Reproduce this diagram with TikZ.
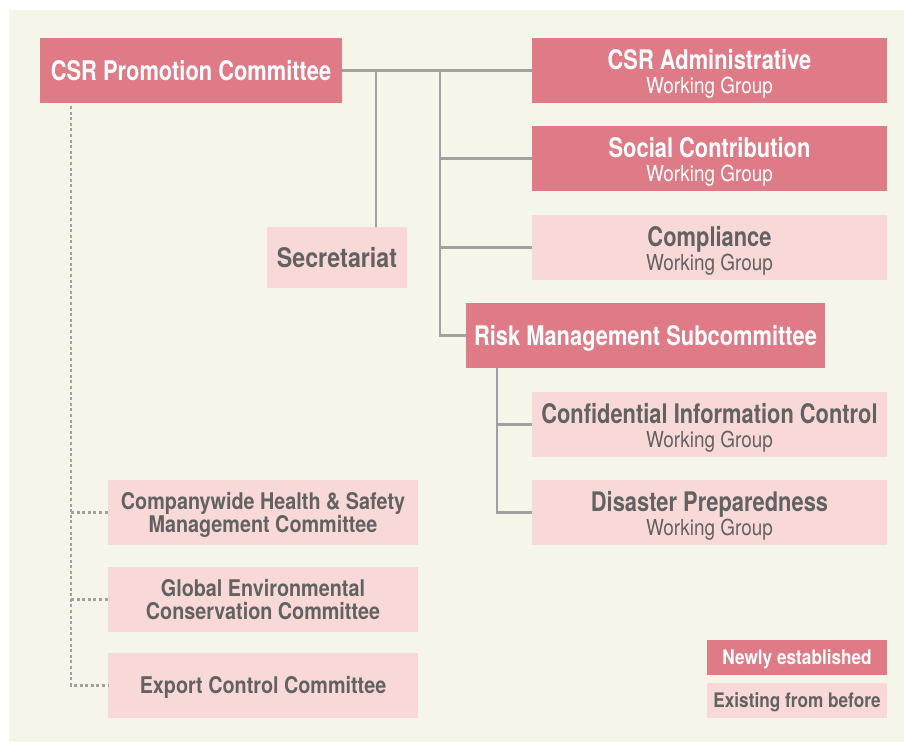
\documentclass[tikz,border=0pt]{standalone}
\usepackage{fontspec}
\newfontfamily\hdfont{TeX Gyre Heros}[FakeStretch=0.81]
\newfontfamily\sbfont{TeX Gyre Heros}[FakeStretch=0.86]
\definecolor{panelbg}{HTML}{F6F5EA}
\definecolor{newpink}{HTML}{DE7B87}
\definecolor{oldpink}{HTML}{F9D9D8}
\definecolor{txtgray}{HTML}{626262}
\definecolor{linegray}{HTML}{A0A0A0}
\newcommand{\wg}{\\{\sbfont\mdseries\fontsize{22}{24}\selectfont Working Group}}
\tikzset{
  box/.style={inner sep=0pt, outer sep=0pt, align=center,
    font=\hdfont\bfseries\fontsize{27}{24}\selectfont,
    text height=19.5pt, text depth=0pt},
  twoline/.style={text height=45pt, text depth=0pt},
  newbox/.style={box, fill=newpink, text=white},
  oldbox/.style={box, fill=oldpink, text=txtgray},
  wide/.style={minimum width=355pt, minimum height=65pt, twoline},
  side/.style={minimum width=310pt, minimum height=65pt,
    font=\sbfont\bfseries\fontsize{23}{23}\selectfont,
    text height=39pt, text depth=0pt},
  sideone/.style={side, text height=16pt, text depth=0pt},
  legend/.style={minimum width=180pt, minimum height=35pt,
    font=\sbfont\bfseries\fontsize{20}{22}\selectfont,
    text height=14pt, text depth=0pt},
  link/.style={draw=linegray, line width=2.5pt},
  dotlink/.style={draw=linegray, line width=2.5pt, dash pattern=on 3pt off 2.6pt}
}
\begin{document}
\begin{tikzpicture}[x=1pt, y=-1pt]
  \useasboundingbox (0,0) rectangle (904,742);
  \fill[panelbg] (9,10) rectangle (904,742);

  % committees and working groups
  \node[newbox, minimum width=302pt, minimum height=65pt] (prom) at (191,70.5) {CSR Promotion Committee};
  \node[newbox, wide] (admin) at (709.5,70.5) {CSR Administrative\wg};
  \node[newbox, wide] (social) at (709.5,158.5) {Social Contribution\wg};
  \node[oldbox, wide] (compl) at (709.5,247.5) {Compliance\wg};
  \node[newbox, minimum width=359pt, minimum height=65pt] (risk) at (645.5,335.5) {Risk Management Subcommittee};
  \node[oldbox, wide] (conf) at (709.5,424.5) {Confidential Information Control\wg};
  \node[oldbox, wide] (dis) at (709.5,512.5) {Disaster Preparedness\wg};
  \node[oldbox, minimum width=140pt, minimum height=61pt,
        font=\sbfont\bfseries\fontsize{27}{24}\selectfont] (secr) at (337,257.5) {Secretariat};

  \node[oldbox, side] (health) at (263,512.5) {Companywide Health \& Safety\\Management Committee};
  \node[oldbox, side] (global) at (263,599.5) {Global Environmental\\Conservation Committee};
  \node[oldbox, sideone] (export) at (263,685.5) {Export Control Committee};

  % legend
  \node[newbox, legend] (newly) at (797,657.5) {Newly established};
  \node[oldbox, legend] (exist) at (797,700.5) {Existing from before};

  % junction points of the tree
  \coordinate (j1) at (376,70.5);
  \coordinate (j2) at (440,70.5);
  \coordinate (j3) at (497,368);
  \coordinate (d1) at (71,106);

  % solid reporting lines
  \draw[link] (prom.east) -- (admin.west);
  \draw[link] (j1) -- (j1 |- secr.north);
  \draw[link] (j2) |- (risk.west);
  \draw[link] (j2 |- social.west) -- (social.west);
  \draw[link] (j2 |- compl.west) -- (compl.west);
  \draw[link] (j3 |- risk.south) |- (dis.west);
  \draw[link] (j3 |- conf.west) -- (conf.west);

  % dotted links to the standing committees
  \draw[dotlink] (d1) |- (export.west);
  \draw[dotlink] (d1 |- health.west) -- (health.west);
  \draw[dotlink] (d1 |- global.west) -- (global.west);
\end{tikzpicture}
\end{document}
